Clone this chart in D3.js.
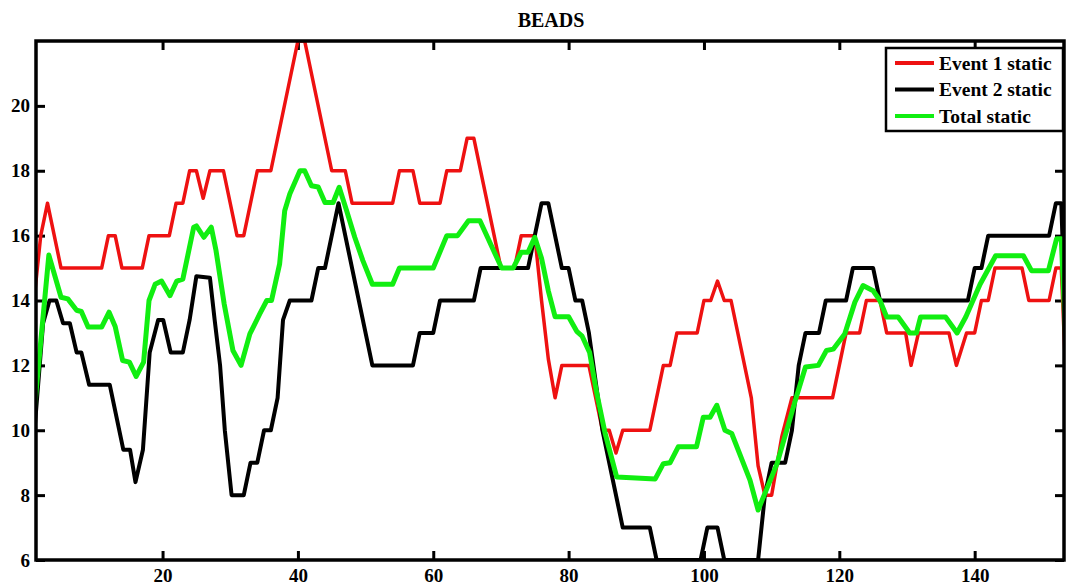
<!DOCTYPE html>
<html>
<head>
<meta charset="utf-8">
<script src="https://cdn.jsdelivr.net/npm/d3@7"></script>
<style>
	body { margin: 0; background: #fff; }
	svg text { font-family: "Liberation Serif", "Times New Roman", serif; font-weight: bold; fill: #000; }
</style>
</head>
<body>
<div id="chart"></div>
<script>
"use strict";

var titleText = "BEADS";
var seriesNames = ["Event 1 static", "Event 2 static", "Total static"];
var seriesColors = ["#ee1111", "#000000", "#11ee11"];
var seriesWidths = [3.5, 4, 5];

var xTicks = [20, 40, 60, 80, 100, 120, 140];
var yTicks = [6, 8, 10, 12, 14, 16, 18, 20];

// Event 1 static (red), vertices
var event1X = [1, 2, 3, 5, 11, 12, 13, 14, 17, 18, 21, 22, 23, 24, 25, 26, 27, 29, 31, 32, 34, 36, 40, 41, 45, 47, 48, 54, 55, 57, 58, 61, 62, 64, 65, 66, 70, 72, 73, 75, 76, 77, 78, 79, 83, 85, 86, 87, 88, 92, 94, 95, 96, 99, 100, 101, 102, 103, 104, 105.5, 107, 108, 109, 110, 111.5, 113, 119, 121, 123, 124, 126, 127, 129.8, 130.6, 131.7, 136.2, 137.3, 138.8, 140, 141, 142, 143, 147, 148, 151, 152, 152.8, 153.6];
var event1Y = [14, 16, 17, 15, 15, 16, 16, 15, 15, 16, 16, 17, 17, 18, 18, 17.15, 18, 18, 16, 16, 18, 18, 22, 22, 18, 18, 17, 17, 18, 18, 17, 17, 18, 18, 19, 19, 15, 15, 16, 16, 14, 12.2, 11, 12, 12, 10, 10, 9.3, 10, 10, 12, 12, 13, 13, 14, 14, 14.6, 14, 14, 12.5, 11, 8.9, 8, 8, 9.8, 11, 11, 13, 13, 14, 14, 13, 13, 12, 13, 13, 12, 13, 13, 14, 14, 15, 15, 14, 14, 15, 15, 11];

// Event 2 static (black)
var event2X = [1, 2.35, 3.3, 4.3, 5.3, 6.3, 7.3, 8, 9.15, 12.2, 14.2, 15.2, 16, 17.1, 18.1, 19.35, 20.1, 21.2, 23, 24, 25, 27, 27.7, 28.5, 29.2, 30.2, 32, 33, 34, 35, 36, 37, 37.8, 38.8, 42, 43, 44, 46, 51, 57, 58, 60, 61, 66, 67, 74, 76, 77, 79, 80, 81, 82, 83, 85, 88, 92, 93, 99.5, 100.5, 102, 103, 108, 109, 110, 112, 113, 114, 115, 117, 118, 121, 122, 125, 126, 139, 140, 141, 142, 151, 152, 152.8, 153.6];
var event2Y = [9.8, 13.3, 14, 14, 13.3, 13.3, 12.4, 12.4, 11.4, 11.4, 9.4, 9.4, 8.4, 9.4, 12.4, 13.4, 13.4, 12.4, 12.4, 13.4, 14.75, 14.7, 13.4, 12, 10, 8, 8, 9, 9, 10, 10, 11, 13.4, 14, 14, 15, 15, 17, 12, 12, 13, 13, 14, 14, 15, 15, 17, 17, 15, 15, 14, 14, 13, 10, 7, 7, 6, 6, 7, 7, 6, 6, 8, 9, 9, 10, 12, 13, 13, 14, 14, 15, 15, 14, 14, 15, 15, 16, 16, 17, 17, 12];

// Total static (green)
var totalX = [1, 3.2, 5, 6, 7.3, 8, 9, 11, 12.1, 13, 14.1, 15.1, 16.1, 17.2, 18, 18.9, 19.85, 21.1, 22.1, 23, 24.6, 25, 26.1, 27.2, 27.9, 29.1, 30.4, 31.6, 32.9, 34.4, 35.4, 36.1, 37.3, 38.05, 38.8, 40.3, 41, 42, 43, 44, 45.2, 46.1, 47.2, 48.4, 49.6, 51, 54, 55, 60, 62, 63.6, 65.2, 66.9, 70.1, 71.8, 73, 74, 75, 76, 77, 78, 80, 81.2, 82, 83.1, 84.1, 85.4, 87.1, 92.8, 94, 95, 96.2, 98.9, 99.9, 100.9, 101.9, 103.1, 104.1, 106.8, 108, 110.8, 113.5, 115, 116.9, 118.1, 119.1, 120.8, 122.3, 123.5, 125, 126, 127, 128.7, 130.4, 131.4, 132, 135.7, 137.4, 138.7, 140.8, 143.1, 147.2, 148.4, 150.9, 152.1, 152.8, 153.6];
var totalY = [10.5, 15.4, 14.1, 14.05, 13.7, 13.66, 13.18, 13.18, 13.64, 13.2, 12.15, 12.1, 11.66, 12.1, 14, 14.5, 14.6, 14.15, 14.6, 14.66, 16.26, 16.3, 15.95, 16.26, 15.54, 13.9, 12.46, 12, 12.97, 13.6, 14, 14, 15.13, 16.77, 17.28, 18, 18, 17.54, 17.5, 17.02, 17.02, 17.49, 16.77, 15.95, 15.23, 14.5, 14.5, 15, 15, 16, 16, 16.46, 16.46, 15, 15, 15.49, 15.49, 15.95, 15.3, 14.3, 13.5, 13.5, 13.05, 12.9, 12.4, 11.2, 9.9, 8.56, 8.5, 8.97, 9, 9.49, 9.49, 10.4, 10.4, 10.77, 10, 9.9, 8.46, 7.54, 8.97, 10.92, 11.95, 12, 12.46, 12.5, 12.97, 13.95, 14.46, 14.3, 14, 13.49, 13.49, 13, 13, 13.49, 13.49, 13, 13.5, 14.5, 15.38, 15.38, 14.92, 14.92, 15.9, 15.9, 12];

var width = 1066, height = 585;
var margin = { top: 41, right: 2, bottom: 25, left: 36 };
var plotW = width - margin.left - margin.right;
var plotH = height - margin.top - margin.bottom;

var svg = d3.select("#chart").append("svg")
	.attr("width", width)
	.attr("height", height);

var x = d3.scaleLinear().domain([1.3, 153.2]).range([0, plotW]);
var y = d3.scaleLinear().domain([6, 22]).range([plotH, 0]);

var g = svg.append("g")
	.attr("transform", "translate(" + margin.left + "," + margin.top + ")");

g.append("clipPath").attr("id", "plotclip")
	.append("rect").attr("width", plotW).attr("height", plotH);

// title
svg.append("text")
	.attr("x", margin.left + plotW / 2 + 1)
	.attr("y", 27)
	.attr("text-anchor", "middle")
	.style("font-size", "20px")
	.text(titleText);

// ticks on all four sides, pointing inward (matlab box style)
var tickLen = 9;
function drawAxis(axis, transform) {
	var a = g.append("g").attr("transform", transform).call(axis);
	a.select(".domain").remove();
	a.selectAll(".tick line").attr("stroke", "#000").attr("stroke-width", 3);
	a.selectAll(".tick text").style("font-size", "19px").attr("fill", "#000");
	return a;
}
drawAxis(d3.axisBottom(x).tickValues(xTicks).tickSize(-tickLen).tickPadding(8.5), "translate(0," + plotH + ")");
drawAxis(d3.axisTop(x).tickValues(xTicks).tickSize(-tickLen).tickFormat(""), "translate(0,0)");
drawAxis(d3.axisLeft(y).tickValues(yTicks).tickSize(-tickLen).tickPadding(6), "translate(0,0)");
drawAxis(d3.axisRight(y).tickValues(yTicks).tickSize(-tickLen).tickFormat(""), "translate(" + plotW + ",0)");

// series
var series = [
	{ xs: event1X, ys: event1Y },
	{ xs: event2X, ys: event2Y },
	{ xs: totalX, ys: totalY }
];
var line = d3.line()
	.x(function(d) { return x(d[0]); })
	.y(function(d) { return y(d[1]); });

var lines = g.append("g").attr("clip-path", "url(#plotclip)");
series.forEach(function(s, i) {
	var pts = s.xs.map(function(v, k) { return [v, s.ys[k]]; });
	lines.append("path")
		.datum(pts)
		.attr("fill", "none")
		.attr("stroke", seriesColors[i])
		.attr("stroke-width", seriesWidths[i])
		.attr("stroke-linejoin", "round")
		.attr("stroke-linecap", "round")
		.attr("d", line);
});

// frame
g.append("rect")
	.attr("width", plotW)
	.attr("height", plotH)
	.attr("fill", "none")
	.attr("stroke", "#000")
	.attr("stroke-width", 3.5);

// legend
var legW = 177, legH = 83;
var leg = g.append("g")
	.attr("transform", "translate(" + (plotW - legW - 1) + ",7)");
leg.append("rect")
	.attr("width", legW)
	.attr("height", legH)
	.attr("fill", "#fff")
	.attr("stroke", "#000")
	.attr("stroke-width", 2.5);
seriesNames.forEach(function(name, i) {
	var ly = 15 + i * 26.5;
	leg.append("line")
		.attr("x1", 9).attr("x2", 48)
		.attr("y1", ly).attr("y2", ly)
		.attr("stroke", seriesColors[i])
		.attr("stroke-width", 4);
	leg.append("text")
		.attr("x", 53)
		.attr("y", ly + 6.5)
		.style("font-size", "19.5px")
		.text(name);
});
</script>
</body>
</html>
